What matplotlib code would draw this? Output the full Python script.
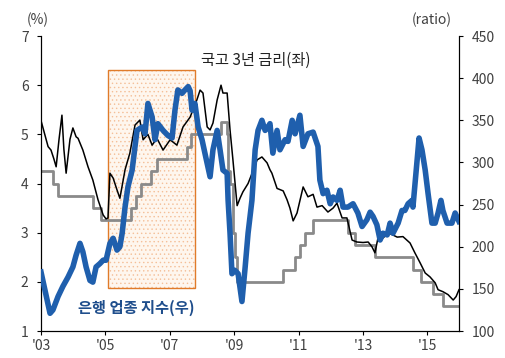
import matplotlib
matplotlib.use("Agg")
import matplotlib.pyplot as plt
from matplotlib.patches import Rectangle

plt.rcParams['font.family'] = ['Noto Sans CJK KR', 'DejaVu Sans']
plt.rcParams['hatch.linewidth'] = 0.5

# 국고 3년 금리 (left axis, %)
bond_t = [2003.00, 2003.22, 2003.31, 2003.40, 2003.47, 2003.56, 2003.65, 2003.71, 2003.78, 2003.90,
          2003.99, 2004.09, 2004.15, 2004.30, 2004.46, 2004.61, 2004.77, 2004.93, 2005.02, 2005.08,
          2005.14, 2005.24, 2005.36, 2005.45, 2005.61, 2005.76, 2005.92, 2006.07, 2006.17, 2006.32,
          2006.45, 2006.60, 2006.79, 2007.01, 2007.22, 2007.41, 2007.63, 2007.72, 2007.84, 2007.94,
          2008.03, 2008.16, 2008.25, 2008.34, 2008.47, 2008.59, 2008.65, 2008.78, 2008.87, 2008.96,
          2009.09, 2009.18, 2009.27, 2009.43, 2009.58, 2009.71, 2009.86, 2010.02, 2010.11, 2010.17,
          2010.33, 2010.52, 2010.64, 2010.73, 2010.83, 2010.95, 2011.14, 2011.29, 2011.45, 2011.57,
          2011.73, 2011.91, 2012.07, 2012.19, 2012.35, 2012.50, 2012.66, 2012.81, 2013.00, 2013.16,
          2013.28, 2013.37, 2013.47, 2013.62, 2013.78, 2014.06, 2014.24, 2014.46, 2014.61, 2014.77,
          2014.93, 2015.08, 2015.24, 2015.33, 2015.48, 2015.64, 2015.80, 2015.89, 2015.98]
bond_v = [5.28, 4.75, 4.68, 4.50, 4.34, 4.90, 5.39, 4.70, 4.21, 4.90,
          5.13, 4.95, 4.92, 4.68, 4.34, 4.07, 3.67, 3.36, 3.28, 3.30,
          4.21, 4.11, 3.87, 3.70, 4.28, 4.62, 5.19, 5.29, 4.89, 5.00,
          4.78, 4.92, 4.68, 4.89, 4.78, 5.15, 5.35, 5.50, 5.70, 5.90,
          5.84, 5.15, 5.09, 5.23, 5.70, 6.00, 5.84, 5.84, 5.09, 4.48,
          3.55, 3.70, 3.83, 4.00, 4.25, 4.48, 4.54, 4.42, 4.28, 4.21,
          3.90, 3.85, 3.67, 3.50, 3.24, 3.40, 3.93, 3.73, 3.78, 3.52,
          3.55, 3.42, 3.50, 3.60, 3.30, 3.30, 2.85, 2.81, 2.80, 2.81,
          2.71, 2.59, 2.91, 2.89, 3.00, 2.91, 2.92, 2.79, 2.59, 2.39,
          2.18, 2.10, 1.98, 1.84, 1.80, 1.74, 1.63, 1.70, 1.84]

# 기준금리 (left axis, %, step changes)
base_t = [2003.00, 2003.36, 2003.53, 2004.60, 2004.85, 2005.80, 2005.95, 2006.12, 2006.43, 2006.60,
          2007.52, 2007.66, 2008.58, 2008.77, 2008.82, 2008.87, 2008.95, 2009.02, 2009.10, 2010.53,
          2010.89, 2011.04, 2011.20, 2011.45, 2012.53, 2012.75, 2013.37, 2014.55, 2014.80, 2015.17,
          2015.48, 2015.98]
base_v = [4.25, 4.00, 3.75, 3.50, 3.25, 3.50, 3.75, 4.00, 4.25, 4.50,
          4.75, 5.00, 5.25, 5.00, 4.25, 4.00, 3.00, 2.50, 2.00, 2.25,
          2.50, 2.75, 3.00, 3.25, 3.00, 2.75, 2.50, 2.25, 2.00, 1.75,
          1.50, 1.50]

# 은행 업종 지수 (right axis, ratio)
bank_t = [2003.00, 2003.12, 2003.28, 2003.37, 2003.53, 2003.68, 2003.84, 2003.99, 2004.09, 2004.21,
          2004.30, 2004.40, 2004.52, 2004.61, 2004.71, 2004.83, 2004.93, 2005.02, 2005.14, 2005.24,
          2005.36, 2005.45, 2005.52, 2005.61, 2005.70, 2005.83, 2005.98, 2006.14, 2006.23, 2006.32,
          2006.45, 2006.54, 2006.63, 2006.79, 2006.94, 2007.07, 2007.16, 2007.25, 2007.38, 2007.47,
          2007.57, 2007.63, 2007.69, 2007.78, 2007.88, 2008.00, 2008.09, 2008.25, 2008.34, 2008.47,
          2008.56, 2008.65, 2008.78, 2008.81, 2008.87, 2008.93, 2009.02, 2009.12, 2009.24, 2009.34,
          2009.43, 2009.55, 2009.65, 2009.74, 2009.86, 2009.96, 2010.05, 2010.11, 2010.20, 2010.33,
          2010.42, 2010.58, 2010.67, 2010.80, 2010.89, 2011.04, 2011.14, 2011.29, 2011.45, 2011.60,
          2011.66, 2011.76, 2011.88, 2011.98, 2012.07, 2012.19, 2012.29, 2012.38, 2012.53, 2012.69,
          2012.84, 2012.97, 2013.12, 2013.22, 2013.31, 2013.43, 2013.53, 2013.62, 2013.75, 2013.84,
          2013.93, 2014.09, 2014.21, 2014.30, 2014.40, 2014.52, 2014.55, 2014.68, 2014.74, 2014.83,
          2014.93, 2015.02, 2015.14, 2015.24, 2015.33, 2015.42, 2015.48, 2015.61, 2015.76, 2015.86,
          2015.98]
bank_v = [170, 149, 121, 125, 141, 153, 164, 176, 190, 204,
          194, 176, 160, 158, 176, 180, 184, 184, 204, 210,
          196, 200, 216, 247, 271, 291, 338, 342, 334, 370,
          354, 327, 346, 338, 332, 329, 362, 386, 382, 386,
          390, 385, 362, 370, 342, 327, 311, 283, 315, 338,
          315, 291, 287, 255, 216, 168, 172, 168, 135, 176,
          216, 255, 315, 338, 350, 338, 342, 346, 311, 338,
          315, 327, 325, 350, 334, 356, 319, 334, 336, 319,
          279, 263, 267, 251, 259, 255, 267, 247, 247, 251,
          240, 224, 232, 241, 236, 226, 208, 216, 214, 228,
          216, 228, 243, 243, 251, 255, 247, 303, 329, 315,
          291, 263, 228, 228, 240, 255, 243, 228, 228, 240,
          230]

tick_years = [2003, 2005, 2007, 2009, 2011, 2013, 2015]
tick_labels = ["'03", "'05", "'07", "'09", "'11", "'13", "'15"]

fig = plt.figure(figsize=(5.05, 3.58), dpi=100)
ax = fig.add_axes([0.0812, 0.0754, 0.8277, 0.824])
ax2 = ax.twinx()

# shaded period
ax.add_patch(Rectangle((2005.07, 1.88), 2.70, 4.43, facecolor='#fef6ee',
                       edgecolor='#f4bf98', hatch='....', linewidth=0, zorder=0))
ax.add_patch(Rectangle((2005.07, 1.88), 2.70, 4.43, fill=False,
                       edgecolor='#e07b2a', linewidth=1.0, zorder=1))

ax.plot(base_t, base_v, drawstyle='steps-post', color='#8a8a8a', linewidth=2.0, zorder=2)
ax.plot(bond_t, bond_v, color='black', linewidth=1.1, zorder=3)
ax2.plot(bank_t, bank_v, color='#1f5fad', linewidth=4.0, solid_joinstyle='round', zorder=3)

ax.set_xlim(2003.0, 2015.98)
ax.set_ylim(1, 7)
ax2.set_ylim(100, 450)
ax.set_yticks(range(1, 8))
ax2.set_yticks(range(100, 451, 50))
ax.set_xticks(tick_years)
ax.set_xticklabels(tick_labels)

for a in (ax, ax2):
    a.spines['top'].set_visible(False)
    a.tick_params(length=3, width=0.8, labelsize=10, labelcolor='#404040', pad=3)
ax.tick_params(axis='y', pad=6)
ax2.tick_params(axis='y', pad=6)

ax.text(2009.68, 6.51, '국고 3년 금리(좌)', ha='center', va='center', fontsize=11, color='#222222')
ax.text(2004.15, 1.47, '은행 업종 지수(우)', ha='left', va='center', fontsize=11,
        fontweight='bold', color='#1f4e8c')

fig.text(38 / 505, 1 - 20 / 358, '(%)', ha='center', va='center', fontsize=10, color='#404040')
fig.text(432 / 505, 1 - 20 / 358, '(ratio)', ha='center', va='center', fontsize=10, color='#404040')

fig.savefig('out.png', dpi=100)
